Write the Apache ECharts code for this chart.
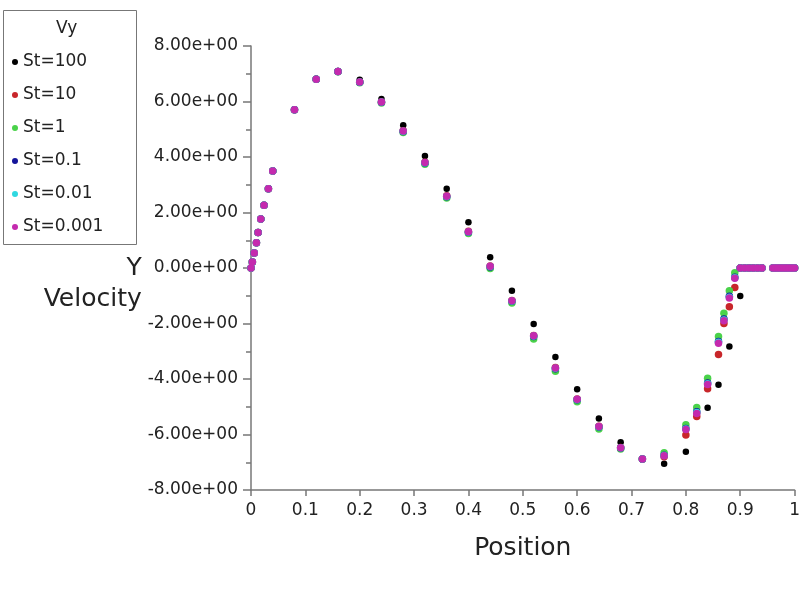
<!DOCTYPE html>
<html>
<head>
<meta charset="UTF-8">
<title>Vy</title>
<script src="https://cdn.jsdelivr.net/npm/echarts@6.0.0/dist/echarts.min.js"></script>
<style>
	body { margin: 0; background: #fff; }
	#vy { width: 803px; height: 593px; }
</style>
</head>
<body>
	<div id="vy"></div>
	<script type="text/javascript">
		// positions along the line (shared by all series)
		var position = [0, 0.0025, 0.006, 0.01, 0.013, 0.018, 0.024, 0.032, 0.04,
			0.08, 0.12, 0.16, 0.2, 0.24, 0.28, 0.32, 0.36, 0.4, 0.44, 0.48, 0.52,
			0.56, 0.6, 0.64, 0.68, 0.72, 0.76, 0.8,
			0.82, 0.84, 0.86, 0.87, 0.88, 0.89, 0.9,
			0.908, 0.916, 0.924, 0.932, 0.94,
			0.96, 0.965, 0.97, 0.975, 0.98, 0.985, 0.99, 0.995, 1];

		var vySt100 = [0, 0.22, 0.54, 0.91, 1.28, 1.77, 2.26, 2.86, 3.5,
			5.72, 6.82, 7.10, 6.78, 6.09, 5.14, 4.04, 2.86, 1.65, 0.39, -0.82, -2.02,
			-3.21, -4.37, -5.42, -6.28, -6.90, -7.05, -6.62,
			null, -5.04, -4.21, null, -2.83, null, -1.01,
			0, 0, 0, 0, 0,
			0, 0, 0, 0, 0, 0, 0, 0, 0];
		var vySt10 = [0, 0.22, 0.54, 0.91, 1.28, 1.77, 2.26, 2.86, 3.5,
			5.70, 6.80, 7.08, 6.70, 5.98, 4.95, 3.81, 2.60, 1.32, 0.07, -1.17, -2.43,
			-3.59, -4.72, -5.70, -6.47, -6.88, -6.80, -6.02,
			-5.35, -4.35, -3.12, -2.00, -1.40, -0.70, 0,
			0, 0, 0, 0, 0,
			0, 0, 0, 0, 0, 0, 0, 0, 0];
		var vySt1 = [0, 0.22, 0.54, 0.91, 1.28, 1.77, 2.26, 2.86, 3.5,
			5.70, 6.80, 7.07, 6.68, 5.95, 4.88, 3.74, 2.52, 1.24, -0.02, -1.26, -2.56,
			-3.72, -4.82, -5.80, -6.52, -6.88, -6.66, -5.65,
			-5.03, -3.97, -2.47, -1.63, -0.82, -0.17, 0,
			0, 0, 0, 0, 0,
			0, 0, 0, 0, 0, 0, 0, 0, 0];
		var vySt01 = [0, 0.22, 0.54, 0.91, 1.28, 1.77, 2.26, 2.86, 3.5,
			5.70, 6.80, 7.08, 6.69, 5.97, 4.92, 3.78, 2.57, 1.29, 0.04, -1.20, -2.47,
			-3.63, -4.75, -5.73, -6.49, -6.88, -6.75, -5.78,
			-5.18, -4.14, -2.65, -1.84, -1.02, -0.33, 0,
			0, 0, 0, 0, 0,
			0, 0, 0, 0, 0, 0, 0, 0, 0];
		var vySt001 = [0, 0.22, 0.54, 0.91, 1.28, 1.77, 2.26, 2.86, 3.5,
			5.70, 6.80, 7.08, 6.70, 5.98, 4.93, 3.79, 2.58, 1.30, 0.05, -1.19, -2.45,
			-3.61, -4.74, -5.72, -6.48, -6.88, -6.76, -5.80,
			-5.21, -4.17, -2.68, -1.87, -1.05, -0.35, 0,
			0, 0, 0, 0, 0,
			0, 0, 0, 0, 0, 0, 0, 0, 0];
		var vySt0001 = [0, 0.22, 0.54, 0.91, 1.28, 1.77, 2.26, 2.86, 3.5,
			5.70, 6.80, 7.08, 6.70, 5.98, 4.94, 3.80, 2.59, 1.31, 0.06, -1.18, -2.44,
			-3.60, -4.73, -5.71, -6.48, -6.88, -6.77, -5.82,
			-5.24, -4.20, -2.71, -1.90, -1.08, -0.37, 0,
			0, 0, 0, 0, 0,
			0, 0, 0, 0, 0, 0, 0, 0, 0];

		var seriesNames = ['St=100', 'St=10', 'St=1', 'St=0.1', 'St=0.01', 'St=0.001'];
		var seriesValues = [vySt100, vySt10, vySt1, vySt01, vySt001, vySt0001];
		var seriesColors = ['#000000', '#c8262a', '#4ad24a', '#14149a', '#2fd8e0', '#c42aae'];

		function pairs(values) {
			var out = [];
			for (var i = 0; i < position.length; i++) {
				if (values[i] !== null) out.push([position[i], values[i]]);
			}
			return out;
		}

		// 8 -> "8.00e+00"
		function sci(v) {
			if (v === 0) return '0.00e+00';
			var e = Math.floor(Math.log10(Math.abs(v)));
			var m = v / Math.pow(10, e);
			return m.toFixed(2) + 'e' + (e < 0 ? '-' : '+') + String(Math.abs(e)).padStart(2, '0');
		}

		var font = 'DejaVu Sans';
		var series = [];
		for (var i = 0; i < seriesNames.length; i++) {
			series.push({
				name : seriesNames[i],
				type : 'scatter',
				symbol : 'circle',
				symbolSize : i === 0 ? 6.5 : 7.5,
				itemStyle : { color : seriesColors[i], opacity : 1 },
				data : pairs(seriesValues[i])
			});
		}

		var vyChart = echarts.init(document.getElementById('vy'));
		vyChart.setOption({
			animation : false,
			textStyle : { fontFamily : font },
			graphic : [ {
				type : 'rect',
				left : 3,
				top : 10,
				shape : { width : 133, height : 234 },
				style : { fill : '#fff', stroke : '#777', lineWidth : 1 }
			}, {
				type : 'text',
				left : 56,
				top : 20,
				style : { text : 'Vy', font : '17px "DejaVu Sans"', fill : '#222' }
			} ],
			legend : {
				data : seriesNames,
				orient : 'vertical',
				left : 7,
				top : 48,
				icon : 'circle',
				itemWidth : 6,
				itemHeight : 6,
				itemGap : 15,
				textStyle : { fontSize : 17, lineHeight : 18, color : '#222', fontFamily : font }
			},
			grid : {
				left : 251,
				right : 6,
				top : 46,
				bottom : 103
			},
			xAxis : {
				type : 'value',
				min : 0,
				max : 1,
				interval : 0.1,
				name : 'Position',
				nameLocation : 'middle',
				nameGap : 46,
				nameTextStyle : { fontSize : 25, color : '#222', fontFamily : font },
				axisLine : { onZero : false, lineStyle : { color : '#777', width : 1.5 } },
				axisTick : { length : 6, lineStyle : { color : '#777', width : 1.5 } },
				axisLabel : { fontSize : 17, color : '#222', margin : 12 },
				splitLine : { show : false }
			},
			yAxis : {
				type : 'value',
				min : -8,
				max : 8,
				interval : 2,
				// blank first line keeps "Y" level with the zero label
				name : ' \nY\nVelocity',
				nameLocation : 'middle',
				nameRotate : 0,
				nameGap : 108,
				nameTextStyle : {
					fontSize : 25,
					lineHeight : 31,
					align : 'right',
					verticalAlign : 'middle',
					color : '#222',
					fontFamily : font
				},
				axisLine : { onZero : false, lineStyle : { color : '#777', width : 1.5 } },
				axisTick : { length : 8, lineStyle : { color : '#777', width : 1.5 } },
				minorTick : { show : true, splitNumber : 2, length : 5, lineStyle : { color : '#777', width : 1.5 } },
				axisLabel : { fontSize : 17, color : '#222', margin : 13, formatter : sci },
				splitLine : { show : false }
			},
			series : series
		});
	</script>
</body>
</html>
